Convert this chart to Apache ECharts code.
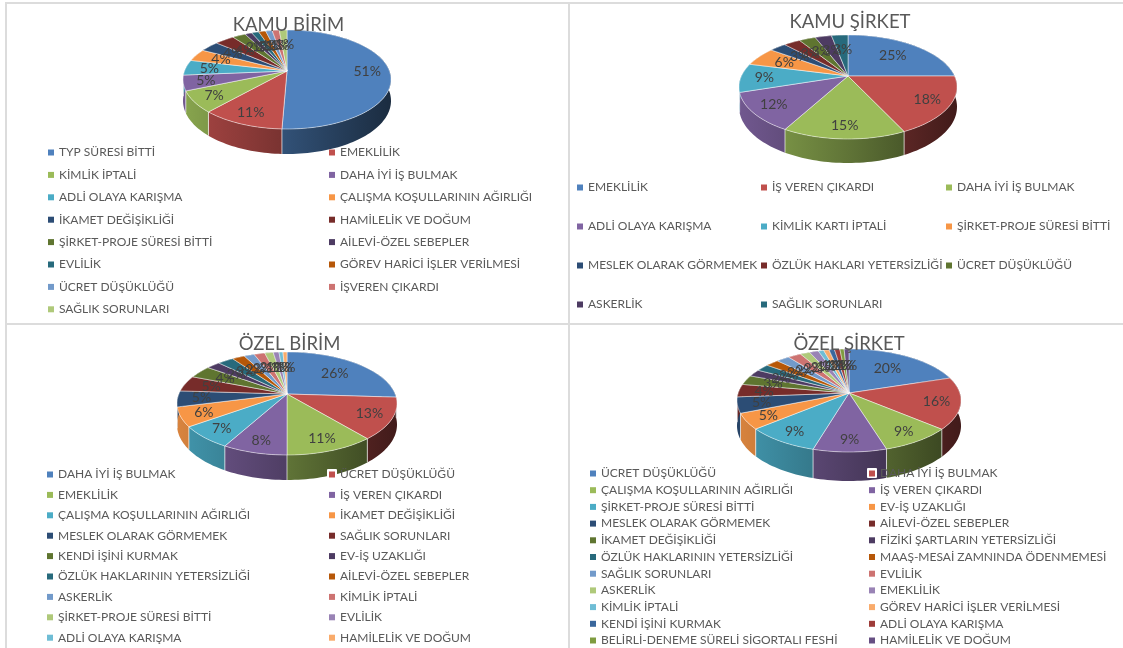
<!DOCTYPE html>
<html>
<head>
<meta charset="utf-8">
<title>Ayrılma nedenleri</title>
<script src="https://cdn.jsdelivr.net/npm/echarts@6/dist/echarts.min.js"></script>
<style>
  html, body { margin: 0; padding: 0; background: #fff; }
  #page { position: relative; width: 1123px; height: 648px; overflow: hidden; }
  .pane { position: absolute; }
  .rule { position: absolute; background: #dcdcdc; }
</style>
</head>
<body>
<div id="page">
  <div class="rule" style="left:5px;top:2px;width:1118px;height:2px"></div>
  <div class="rule" style="left:5px;top:2px;width:2px;height:646px"></div>
  <div class="rule" style="left:568px;top:2px;width:2px;height:646px"></div>
  <div class="rule" style="left:5px;top:323px;width:1118px;height:2px"></div>
  <div class="pane" id="kamuBirim" style="left:7px;top:4px;width:561px;height:319px"></div>
  <div class="pane" id="kamuSirket" style="left:570px;top:4px;width:553px;height:319px"></div>
  <div class="pane" id="ozelBirim" style="left:7px;top:325px;width:561px;height:323px"></div>
  <div class="pane" id="ozelSirket" style="left:570px;top:325px;width:553px;height:323px"></div>
</div>
<script>
// Data (percent)
const kamuBirimNames = ['TYP SÜRESİ BİTTİ', 'EMEKLİLİK', 'KİMLİK İPTALİ', 'DAHA İYİ İŞ BULMAK', 'ADLİ OLAYA KARIŞMA', 'ÇALIŞMA KOŞULLARININ AĞIRLIĞI', 'İKAMET DEĞİŞİKLİĞİ', 'HAMİLELİK VE DOĞUM', 'ŞİRKET-PROJE SÜRESİ BİTTİ', 'AİLEVİ-ÖZEL SEBEPLER', 'EVLİLİK', 'GÖREV HARİCİ İŞLER VERİLMESİ', 'ÜCRET DÜŞÜKLÜĞÜ', 'İŞVEREN ÇIKARDI', 'SAĞLIK SORUNLARI']
const kamuBirimValues = [50.6, 11, 7, 5, 5, 4, 3.5, 3.6, 2.4, 1.3, 1.3, 1.3, 1.2, 1.3, 1.4]

const kamuSirketNames = ['EMEKLİLİK', 'İŞ VEREN ÇIKARDI', 'DAHA İYİ İŞ BULMAK', 'ADLİ OLAYA KARIŞMA', 'KİMLİK KARTI İPTALİ', 'ŞİRKET-PROJE SÜRESİ BİTTİ', 'MESLEK OLARAK GÖRMEMEK', 'ÖZLÜK HAKLARI YETERSİZLİĞİ', 'ÜCRET DÜŞÜKLÜĞÜ', 'ASKERLİK', 'SAĞLIK SORUNLARI']
const kamuSirketValues = [25, 18, 15, 12, 9, 6, 3, 3, 3, 3, 3]

const ozelBirimNames = ['DAHA İYİ İŞ BULMAK', 'ÜCRET DÜŞÜKLÜĞÜ', 'EMEKLİLİK', 'İŞ VEREN ÇIKARDI', 'ÇALIŞMA KOŞULLARININ AĞIRLIĞI', 'İKAMET DEĞİŞİKLİĞİ', 'MESLEK OLARAK GÖRMEMEK', 'SAĞLIK SORUNLARI', 'KENDİ İŞİNİ KURMAK', 'EV-İŞ UZAKLIĞI', 'ÖZLÜK HAKLARININ YETERSİZLİĞİ', 'AİLEVİ-ÖZEL SEBEPLER', 'ASKERLİK', 'KİMLİK İPTALİ', 'ŞİRKET-PROJE SÜRESİ BİTTİ', 'EVLİLİK', 'ADLİ OLAYA KARIŞMA', 'HAMİLELİK VE DOĞUM']
const ozelBirimValues = [26, 13, 11, 8, 7, 6, 5, 5, 4, 2.4, 2.8, 2.2, 1.8, 1.9, 1.5, 1, 0.7, 0.7]

const ozelSirketNames = ['ÜCRET DÜŞÜKLÜĞÜ', 'DAHA İYİ İŞ BULMAK', 'ÇALIŞMA KOŞULLARININ AĞIRLIĞI', 'İŞ VEREN ÇIKARDI', 'ŞİRKET-PROJE SÜRESİ BİTTİ', 'EV-İŞ UZAKLIĞI', 'MESLEK OLARAK GÖRMEMEK', 'AİLEVİ-ÖZEL SEBEPLER', 'İKAMET DEĞİŞİKLİĞİ', 'FİZİKİ ŞARTLARIN YETERSİZLİĞİ', 'ÖZLÜK HAKLARININ YETERSİZLİĞİ', 'MAAŞ-MESAİ ZAMNINDA ÖDENMEMESİ', 'SAĞLIK SORUNLARI', 'EVLİLİK', 'ASKERLİK', 'EMEKLİLİK', 'KİMLİK İPTALİ', 'GÖREV HARİCİ İŞLER VERİLMESİ', 'KENDİ İŞİNİ KURMAK', 'ADLİ OLAYA KARIŞMA', 'BELİRLİ-DENEME SÜRELİ SİGORTALI FESHİ', 'HAMİLELİK VE DOĞUM']
const ozelSirketValues = [20, 16.3, 9, 9.2, 9.3, 5, 5, 4, 3, 2.2, 2.2, 2.2, 2.2, 2.2, 1.6, 1.5, 0.9, 0.9, 0.9, 0.9, 0.7, 0.8]

const palette = ['#4f81bd', '#c0504d', '#9bbb59', '#8064a2', '#4bacc6', '#f79646', '#2c4d75', '#772c2a', '#5f7530', '#4d3b62', '#276a7c', '#b65708', '#729aca', '#cd7371', '#afc97a', '#9983b5', '#6fbdd5', '#f9ab6b', '#3a679c', '#9e3c39', '#7f9c40', '#664f83']

const FONT = 'Lato, "Open Sans", "Noto Sans", sans-serif'
const TEXT = '#595959'

const shade = (hex, f) => {
  const n = parseInt(hex.slice(1), 16)
  return `rgb(${Math.round((n >> 16) * f)},${Math.round(((n >> 8) & 255) * f)},${Math.round((n & 255) * f)})`
}

// Perspective disc: apex is closer to the back rim than to the front rim
const makeDisc = (g) => {
  const a = g.apexY - g.top
  const b = g.bottom - g.apexY
  const k = (b - a) / (b + a)
  const ry = a * (1 + k)
  const rx = g.halfW * Math.sqrt(1 - k * k)
  const d = g.depth * (1 - k)
  return (t, r, drop) => {
    // t runs clockwise from the top of the pie
    const u = r * Math.sin(t)
    const v = -r * Math.cos(t)
    const s = 1 / (1 - k * v)
    return [g.cx + rx * u * s, g.apexY + ry * v * s + (drop ? d * s : 0)]
  }
}

const arc = (disc, t0, t1, drop) => {
  const steps = Math.max(2, Math.ceil((t1 - t0) / 0.03))
  const pts = []
  for (let i = 0; i <= steps; i++) pts.push(disc(t0 + (t1 - t0) * i / steps, 1, drop))
  return pts
}

// labels sit further in towards the back of the pie, as in the original
const labelRadius = (t) => {
  const front = -Math.cos(t)
  return front < 0 ? 0.78 + 0.18 * front : 0.78 + 0.04 * front
}

const buildSeries = (names, values, geom) => {
  const disc = makeDisc(geom)
  const total = values.reduce((s, v) => s + v, 0)
  let sum = 0
  return names.map((name, i) => {
    const start = sum
    sum += values[i]
    return {
      type: 'custom',
      name,
      coordinateSystem: 'none',
      silent: true,
      animation: false,
      itemStyle: { color: palette[i] },
      data: [[values[i], start]],
      renderItem: (params, api) => {
        const t0 = api.value(1) / total * Math.PI * 2
        const t1 = t0 + api.value(0) / total * Math.PI * 2
        const mid = (t0 + t1) / 2
        const color = palette[i]
        const rim = arc(disc, t0, t1, false)
        const lower = arc(disc, t0, t1, true).reverse()
        const labelAt = disc(mid, labelRadius(mid), false)
        return {
          type: 'group',
          children: [
            {
              type: 'polygon',
              z2: 1,
              shape: { points: rim.concat(lower) },
              style: {
                fill: {
                  type: 'linear',
                  global: true,
                  x: geom.cx - geom.halfW,
                  y: 0,
                  x2: geom.cx + geom.halfW,
                  y2: 0,
                  colorStops: [
                    { offset: 0, color: shade(color, 0.88) },
                    { offset: 0.5, color: shade(color, 0.62) },
                    { offset: 1, color: shade(color, 0.34) }
                  ]
                }
              }
            },
            {
              type: 'line',
              z2: 2,
              shape: { x1: rim[0][0], y1: rim[0][1], x2: lower[lower.length - 1][0], y2: lower[lower.length - 1][1] },
              style: { stroke: 'rgba(255,255,255,0.65)', lineWidth: 1 }
            },
            {
              type: 'polygon',
              z2: 3,
              shape: { points: [disc(0, 0, false)].concat(rim) },
              style: { fill: color, stroke: 'rgba(255,255,255,0.6)', lineWidth: 0.8 }
            },
            {
              type: 'text',
              z2: 4,
              style: {
                x: labelAt[0],
                y: labelAt[1],
                text: Math.round(api.value(0) / total * 100) + '%',
                align: 'center',
                verticalAlign: 'middle',
                fill: '#404040',
                font: '14px ' + FONT
              }
            }
          ]
        }
      }
    }
  })
}

const buildLegends = (names, layout) => {
  const cols = layout.lefts.length
  return layout.lefts.map((left, c) => ({
    orient: 'vertical',
    left,
    top: layout.top,
    padding: 0,
    itemWidth: 6,
    itemHeight: 6,
    itemGap: layout.rowStep - 15,
    icon: 'rect',
    selectedMode: false,
    textStyle: { color: TEXT, fontFamily: FONT, fontSize: 12, lineHeight: 15 },
    data: names.filter((n, i) => i % cols === c)
  }))
}

const draw = (id, title, names, values, geom, layout, extra) => {
  const chart = echarts.init(document.getElementById(id), null, { renderer: 'canvas' })
  chart.setOption({
    animation: false,
    title: {
      text: title,
      left: geom.titleX,
      top: geom.titleTop,
      padding: 0,
      textAlign: 'center',
      textStyle: { color: TEXT, fontFamily: FONT, fontSize: 18.5, fontWeight: 'normal' }
    },
    legend: buildLegends(names, layout),
    series: buildSeries(names, values, geom),
    graphic: extra || []
  })
}

// white selection box the original has around one legend key
const keyBox = (left, top) => [{
  type: 'rect', z: 3, left, top,
  shape: { width: 10, height: 10, r: 1 },
  style: { fill: '#fff' }
}]

draw('kamuBirim', 'KAMU BİRİM', kamuBirimNames, kamuBirimValues,
  { cx: 280, apexY: 67, top: 26, bottom: 125, halfW: 104, depth: 25, titleX: 281.5, titleTop: 12 },
  { lefts: [41, 322], top: 141, rowStep: 22.4 })

draw('kamuSirket', 'KAMU ŞİRKET', kamuSirketNames, kamuSirketValues,
  { cx: 278, apexY: 72, top: 31, bottom: 135, halfW: 109, depth: 24, titleX: 280, titleTop: 9 },
  { lefts: [7, 191, 376], top: 176, rowStep: 39 })

draw('ozelBirim', 'ÖZEL BİRİM', ozelBirimNames, ozelBirimValues,
  { cx: 280, apexY: 69, top: 27, bottom: 130, halfW: 110, depth: 25, titleX: 282.5, titleTop: 10 },
  { lefts: [40, 322], top: 142, rowStep: 20.4 },
  keyBox(320, 144))

draw('ozelSirket', 'ÖZEL ŞİRKET', ozelSirketNames, ozelSirketValues,
  { cx: 279, apexY: 68, top: 24, bottom: 127, halfW: 112, depth: 29, titleX: 279, titleTop: 10 },
  { lefts: [20, 299], top: 141, rowStep: 16.7 },
  keyBox(297, 143))
</script>
</body>
</html>
